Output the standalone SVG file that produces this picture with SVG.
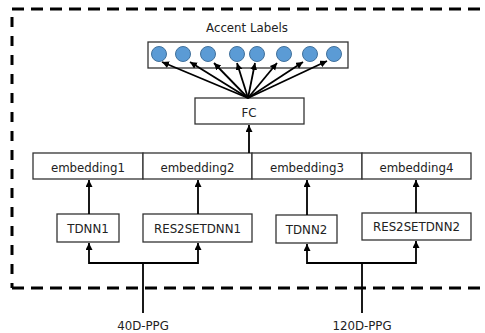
<svg xmlns="http://www.w3.org/2000/svg" width="485" height="333" viewBox="0 0 485 333">
<defs>
<style>
.box{fill:#fff;stroke:#333;stroke-width:1.3}
.lbl{font-family:"DejaVu Sans",Verdana,sans-serif;font-size:11.8px;fill:#222;text-anchor:middle}
.dot{fill:#5b9bd5;stroke:#41719c;stroke-width:1}
.conn{fill:none;stroke:#000;stroke-width:1.8}
.arr{marker-end:url(#ah)}
.border{fill:none;stroke:#000;stroke-width:3}
</style>
<marker id="ah" markerUnits="userSpaceOnUse" markerWidth="8" markerHeight="8" refX="7" refY="3.5" orient="auto">
<path d="M0,0 L7,3.5 L0,7 z" fill="#000"/>
</marker>
</defs>
<rect width="485" height="333" fill="#fff"/>
<g id="border">
<path class="border" d="M12,9 H485" stroke-dasharray="12 7"/>
<path class="border" d="M12,17 V288" stroke-dasharray="10 9"/>
<path class="border" d="M12,288 H485" stroke-dasharray="12 7"/>
</g>
<g id="accent-labels">
<text class="lbl" x="247" y="31.5">Accent Labels</text>
<rect class="box" x="148" y="42" width="200" height="26"/>
<circle class="dot" cx="159" cy="54" r="7.5"/>
<circle class="dot" cx="183" cy="54" r="7.5"/>
<circle class="dot" cx="208" cy="54" r="7.5"/>
<circle class="dot" cx="237" cy="54" r="7.5"/>
<circle class="dot" cx="257" cy="54" r="7.5"/>
<circle class="dot" cx="284" cy="54" r="7.5"/>
<circle class="dot" cx="310" cy="54" r="7.5"/>
<circle class="dot" cx="334" cy="54" r="7.5"/>
</g>
<g id="fc">
<rect class="box" x="195" y="98" width="109" height="26"/>
<text class="lbl" x="249" y="117">FC</text>
</g>
<g id="embedding1"><rect class="box" x="33" y="153" width="110" height="26"/><text class="lbl" x="88" y="171.5">embedding1</text></g>
<g id="embedding2"><rect class="box" x="143" y="153" width="109" height="26"/><text class="lbl" x="197.5" y="171.5">embedding2</text></g>
<g id="embedding3"><rect class="box" x="252" y="153" width="110" height="26"/><text class="lbl" x="307" y="171.5">embedding3</text></g>
<g id="embedding4"><rect class="box" x="362" y="153" width="109" height="26"/><text class="lbl" x="416.5" y="171.5">embedding4</text></g>
<g id="tdnn1"><rect class="box" x="57" y="214" width="62" height="28"/><text class="lbl" x="88" y="232.5">TDNN1</text></g>
<g id="res2setdnn1"><rect class="box" x="143" y="214" width="109" height="28"/><text class="lbl" x="197.5" y="232.5">RES2SETDNN1</text></g>
<g id="tdnn2"><rect class="box" x="276" y="215" width="61" height="28"/><text class="lbl" x="306.5" y="234">TDNN2</text></g>
<g id="res2setdnn2"><rect class="box" x="362" y="213" width="109" height="27"/><text class="lbl" x="416.5" y="231">RES2SETDNN2</text></g>
<g id="input-40d"><text class="lbl" x="143" y="330">40D-PPG</text></g>
<g id="input-120d"><text class="lbl" x="362" y="330">120D-PPG</text></g>
<g id="connectors">
<path class="conn arr" d="M248,98 L162,62"/>
<path class="conn arr" d="M248,98 L190,62"/>
<path class="conn arr" d="M248,98 L214,63"/>
<path class="conn arr" d="M248,98 L237,63"/>
<path class="conn arr" d="M248,98 L255,63"/>
<path class="conn arr" d="M248,98 L277,63"/>
<path class="conn arr" d="M248,98 L303,62"/>
<path class="conn arr" d="M248,98 L327,61"/>
<path class="conn arr" d="M249,153 V125"/>
<path class="conn arr" d="M89,214 V180"/>
<path class="conn arr" d="M198,214 V180"/>
<path class="conn arr" d="M307,215 V180"/>
<path class="conn arr" d="M416,213 V180"/>
<path class="conn" d="M143,313 V263"/>
<path class="conn arr" d="M143,263 H89 V243"/>
<path class="conn arr" d="M143,263 H198 V243"/>
<path class="conn" d="M362,313 V263"/>
<path class="conn arr" d="M362,263 H307 V244"/>
<path class="conn arr" d="M362,263 H416 V241"/>
</g>
</svg>
